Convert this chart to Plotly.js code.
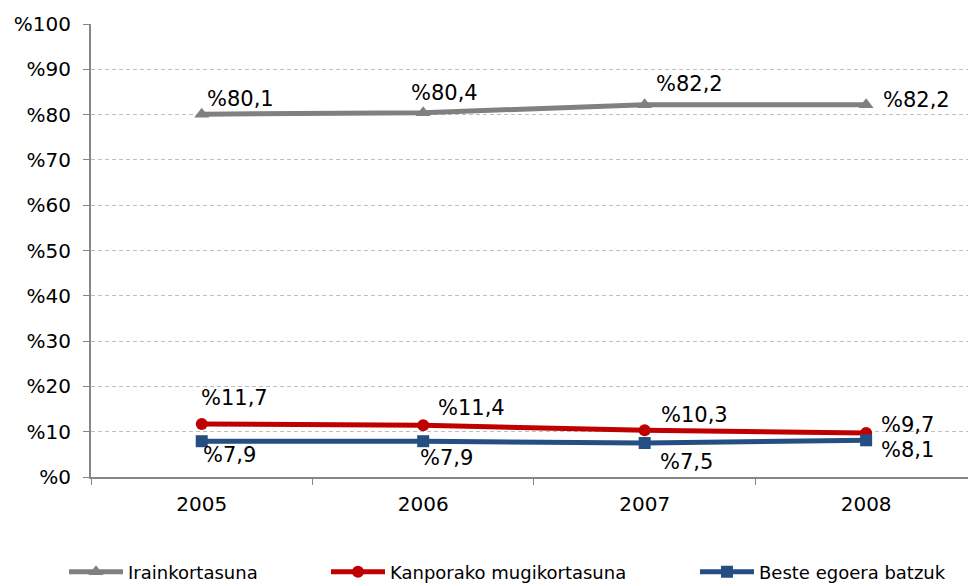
<!DOCTYPE html>
<html>
<head>
<meta charset="utf-8">
<script src="https://cdn.plot.ly/plotly-3.0.1.min.js"></script>
<style>html,body{margin:0;padding:0;background:#fff;}#chart{width:968px;height:586px;}</style>
</head>
<body>
<div id="chart"></div>
<script>
const years = ['2005', '2006', '2007', '2008'];
const irainkortasuna = [80.1, 80.4, 82.2, 82.2];
const kanporako = [11.7, 11.4, 10.3, 9.7];
const beste = [7.9, 7.9, 7.5, 8.1];
const seriesNames = ['Irainkortasuna', 'Kanporako mugikortasuna', 'Beste egoera batzuk'];
const yTickVals = [0, 10, 20, 30, 40, 50, 60, 70, 80, 90, 100];

const FONT = 'DejaVu Sans, Verdana, sans-serif';
const fmt = v => '%' + v.toFixed(1).replace('.', ',');

// label offsets (pixels): [xshift, yshift]
const labelShifts = [
  [[3, 15], [-14, 20], [9, 21], [15, 5]],
  [[-3, 26], [13, 17], [14, 15], [13, 8]],
  [[-1, -14], [-5, -17], [13, -19], [13, -10]]
];
const allSeries = [irainkortasuna, kanporako, beste];

const colors = ['#808080', '#C00000', '#254E82'];
const symbols = ['triangle-up', 'circle', 'square'];
const legendIds = ['legend', 'legend2', 'legend3'];

const traces = allSeries.map((vals, i) => ({
  x: years, y: vals, name: seriesNames[i], type: 'scatter', mode: 'lines+markers',
  line: {color: colors[i], width: 5},
  marker: {symbol: symbols[i], size: i === 0 ? 13 : 12, color: colors[i]},
  legend: legendIds[i], cliponaxis: false
}));

const annotations = [];
allSeries.forEach((vals, i) => {
  vals.forEach((v, j) => {
    annotations.push({
      x: j, y: v, xref: 'x', yref: 'y', text: fmt(v), showarrow: false,
      xanchor: 'left', yanchor: 'middle',
      xshift: labelShifts[i][j][0], yshift: labelShifts[i][j][1],
      font: {family: FONT, size: 21, color: '#000'}
    });
  });
});

const legendBase = {
  orientation: 'h', xref: 'container', yref: 'container',
  y: 0.024, yanchor: 'middle', xanchor: 'left', itemwidth: 54,
  font: {family: FONT, size: 18, color: '#000'}, bgcolor: 'rgba(0,0,0,0)'
};

const layout = {
  width: 968, height: 586,
  margin: {l: 91, r: 0, t: 24, b: 109},
  paper_bgcolor: '#fff', plot_bgcolor: '#fff',
  font: {family: FONT, size: 20, color: '#000'},
  showlegend: true,
  annotations: annotations,
  xaxis: {
    type: 'category', range: [-0.5, 3.46],
    showgrid: false, zeroline: false,
    showline: true, linecolor: '#868686', linewidth: 2,
    ticks: 'outside', tickson: 'boundaries', ticklen: 6, tickcolor: '#868686', tickwidth: 1,
    ticklabelstandoff: 8,
    tickfont: {family: FONT, size: 20, color: '#000'}
  },
  yaxis: {
    range: [0, 100], tickvals: yTickVals, ticktext: yTickVals.map(v => '%' + v),
    showgrid: true, gridcolor: '#BFBFBF', griddash: '4px,3px', gridwidth: 1,
    zeroline: false, showline: true, linecolor: '#868686', linewidth: 2,
    ticks: 'outside', ticklen: 6, tickcolor: '#868686',
    ticklabelstandoff: 8,
    tickfont: {family: FONT, size: 20, color: '#000'}
  },
  legend: Object.assign({}, legendBase, {x: 64 / 968}),
  legend2: Object.assign({}, legendBase, {x: 326 / 968}),
  legend3: Object.assign({}, legendBase, {x: 695 / 968})
};

Plotly.newPlot('chart', traces, layout, {displayModeBar: false});
</script>
</body>
</html>
